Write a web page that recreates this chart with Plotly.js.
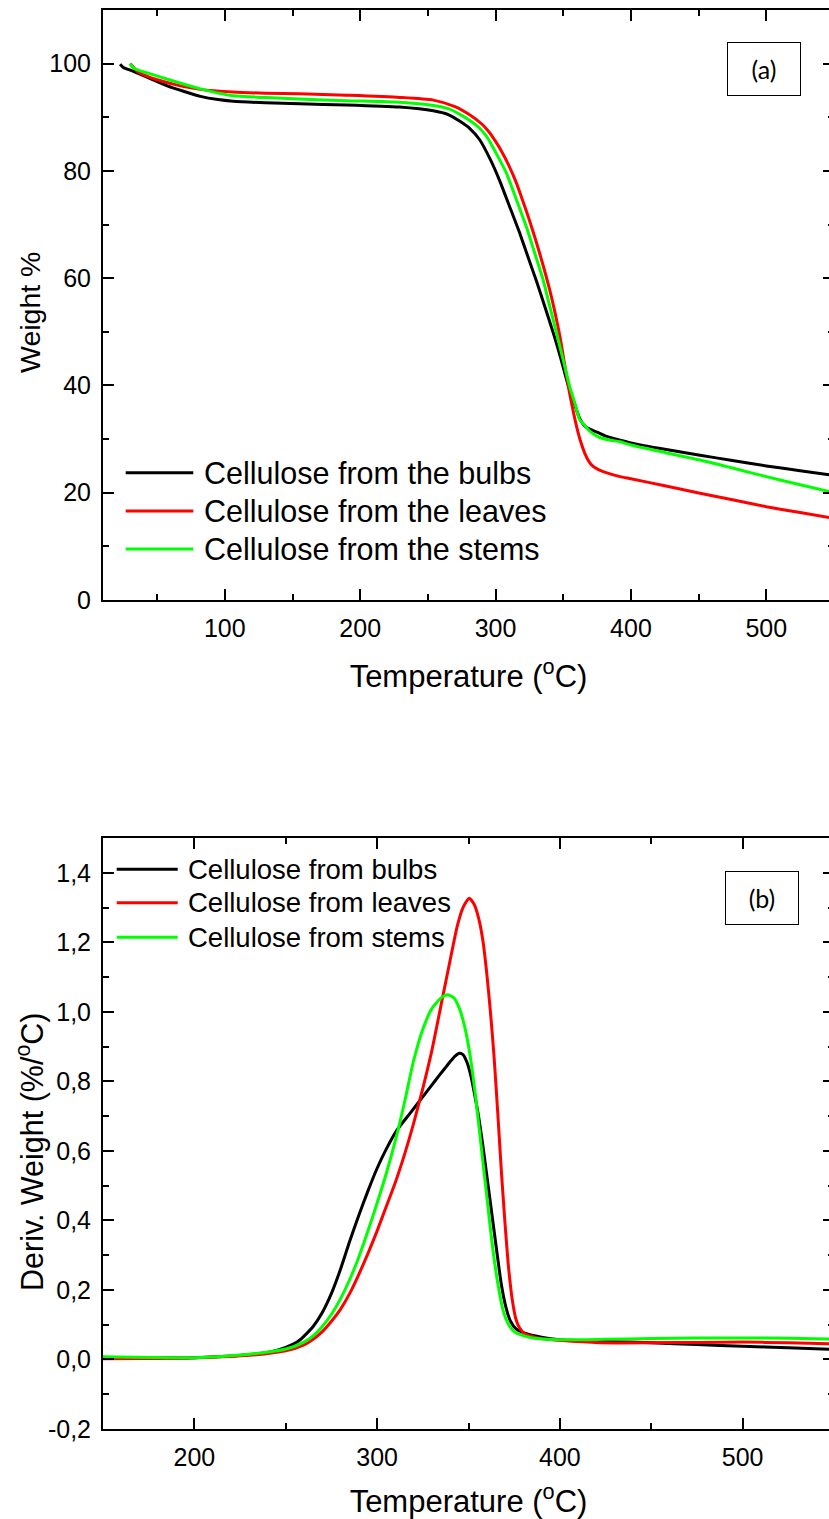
<!DOCTYPE html>
<html>
<head>
<meta charset="utf-8">
<script src="https://cdn.plot.ly/plotly-3.0.1.min.js"></script>
<style>html,body{margin:0;padding:0;overflow:hidden;background:#fff;}</style>
</head>
<body>
<div id="chart"></div>
<script>
// ---------- labels / colours ----------
const seriesNamesA = ["Cellulose from the bulbs", "Cellulose from the leaves", "Cellulose from the stems"];
const seriesNamesB = ["Cellulose from bulbs", "Cellulose from leaves", "Cellulose from stems"];
const seriesColors = ["#000000", "#ff0000", "#00ff00"];
const xTitle = "Temperature (<sup>o</sup>C)";
const yTitleA = "Weight %";
const yTitleB = "Deriv. Weight (%/<sup>o</sup>C)";

// ---------- (a) TGA data ----------
const bulbsT = [22.6, 25, 32, 45, 57, 70, 82, 95, 106, 130, 155, 190, 229, 254, 265, 274, 281, 288, 296, 303, 310, 318, 325, 330, 336, 343, 348, 353, 358, 362, 366, 370, 375, 382, 392, 400, 425, 451, 475, 500, 525, 550];
const bulbsW = [99.9, 99.3, 98.6, 97.2, 95.9, 94.8, 93.9, 93.3, 93.0, 92.7, 92.5, 92.3, 91.9, 91.2, 90.5, 89.2, 87.9, 85.9, 82.2, 78.2, 73.6, 68.3, 63.2, 59.6, 55.0, 49.5, 45.2, 40.6, 36.8, 33.9, 32.4, 31.8, 31.3, 30.5, 29.8, 29.3, 28.1, 27.0, 26.0, 25.0, 24.1, 23.2];

const leavesT = [30, 31.5, 33, 35, 40, 50, 65, 82, 106, 130, 155, 190, 229, 254, 270, 280, 290, 295, 300, 305, 310, 315, 320, 325, 330, 335, 340, 345, 348, 351, 354, 357, 360, 363, 366, 369, 372, 376, 380, 392, 400, 425, 451, 475, 500, 525, 550];
const leavesW = [100, 99.6, 99.2, 98.6, 97.9, 97.0, 96.0, 95.2, 94.7, 94.5, 94.4, 94.1, 93.7, 93.2, 92.0, 90.6, 88.7, 87.3, 85.5, 83.4, 80.9, 78.0, 74.5, 70.8, 66.8, 62.5, 57.8, 52.3, 48.5, 43.9, 39.5, 35.6, 32.2, 29.4, 27.3, 25.8, 24.9, 24.3, 23.9, 23.0, 22.6, 21.3, 19.9, 18.7, 17.4, 16.3, 15.2];

const stemsT = [29.9, 32, 37, 45, 60, 82, 106, 130, 155, 190, 229, 254, 265, 274, 281, 288, 294, 301, 308, 315, 323, 329, 335, 340, 345, 350, 355, 359, 362, 366, 369, 372, 377, 385, 392, 400, 425, 451, 475, 500, 525, 550];
const stemsW = [100, 99.3, 98.7, 98.1, 96.9, 95.3, 94.0, 93.7, 93.4, 93.1, 92.8, 92.2, 91.6, 90.5, 89.4, 88.0, 86.2, 83.0, 79.6, 74.9, 69.4, 64.6, 59.8, 54.8, 49.8, 44.7, 39.6, 36.3, 33.7, 32.5, 31.6, 31.0, 30.3, 29.8, 29.5, 28.9, 27.5, 26.1, 24.6, 23.0, 21.5, 20.0];

// ---------- (b) DTG data ----------
const bulbsDT = [150, 175, 200, 220, 240, 250, 257, 265, 270, 275, 280, 285, 290, 295, 300, 305, 311, 318, 324, 330, 334, 337, 340, 342.5, 345, 347, 349, 351, 353, 355.5, 358, 360.5, 363, 365.5, 368, 370.5, 373, 376, 380, 390, 400, 425, 450, 475, 500, 525, 550];
const bulbsD = [0.005, 0.004, 0.005, 0.01, 0.02, 0.035, 0.053, 0.095, 0.135, 0.19, 0.26, 0.34, 0.415, 0.485, 0.55, 0.605, 0.661, 0.708, 0.749, 0.79, 0.817, 0.837, 0.857, 0.872, 0.881, 0.877, 0.857, 0.822, 0.772, 0.7, 0.61, 0.51, 0.41, 0.31, 0.215, 0.15, 0.11, 0.088, 0.077, 0.064, 0.057, 0.052, 0.048, 0.043, 0.038, 0.034, 0.029];

const leavesDT = [150, 175, 200, 230, 250, 260, 265, 270, 275, 280, 285, 290, 295, 300, 305, 310, 315, 320, 325, 330, 335, 340, 344, 347, 350.4, 353, 355.5, 358, 360, 362, 364, 366, 368, 370, 372, 374, 376, 378, 381, 390, 400, 421.8, 450, 475, 500, 525, 550];
const leavesD = [0.002, 0.003, 0.005, 0.012, 0.025, 0.042, 0.058, 0.08, 0.11, 0.145, 0.19, 0.245, 0.305, 0.37, 0.44, 0.51, 0.59, 0.68, 0.78, 0.89, 1.02, 1.15, 1.25, 1.3, 1.327, 1.31, 1.27, 1.2, 1.11, 1.0, 0.87, 0.71, 0.54, 0.39, 0.26, 0.17, 0.115, 0.09, 0.073, 0.06, 0.055, 0.048, 0.048, 0.049, 0.05, 0.048, 0.045];

const stemsDT = [150, 175, 200, 230, 250, 260, 265, 270, 275, 280, 285, 290, 295, 300, 305, 310, 315, 320, 325, 330, 335, 338.5, 342, 345, 348, 351, 354, 357, 360, 363, 366, 369, 372, 375, 378, 385, 400, 425, 450, 475, 500, 525, 550];
const stemsD = [0.008, 0.006, 0.005, 0.015, 0.03, 0.05, 0.068, 0.095, 0.13, 0.175, 0.23, 0.295, 0.37, 0.45, 0.535, 0.63, 0.74, 0.86, 0.95, 1.01, 1.04, 1.049, 1.04, 1.01, 0.955, 0.87, 0.75, 0.61, 0.47, 0.33, 0.22, 0.14, 0.1, 0.08, 0.072, 0.062, 0.057, 0.058, 0.06, 0.062, 0.062, 0.061, 0.059];

// ---------- tick labels ----------
const dtgTickVals = [-0.2, 0, 0.2, 0.4, 0.6, 0.8, 1.0, 1.2, 1.4];
const dtgTickText = ["-0,2", "0,0", "0,2", "0,4", "0,6", "0,8", "1,0", "1,2", "1,4"];
const tgaTickVals = [0, 20, 40, 60, 80, 100];
const tempTickVals = [100, 200, 300, 400, 500];

// ---------- geometry helpers (pixel -> paper) ----------
const W = 840, H = 1519;
const M = {l: 103, r: 6, t: 10, b: 90};
const PW = W - M.l - M.r, PH = H - M.t - M.b;
const px = p => (p - M.l) / PW;
const py = p => (H - M.b - p) / PH;

const FONT = "Arial, Liberation Sans, sans-serif";
const lw = 3;

const tgaX = [bulbsT, leavesT, stemsT];
const tgaY = [bulbsW, leavesW, stemsW];
const dtgX = [bulbsDT, leavesDT, stemsDT];
const dtgY = [bulbsD, leavesD, stemsD];

const traces = [];
for (let i = 0; i < 3; i++) {
  traces.push({x: tgaX[i], y: tgaY[i], name: seriesNamesA[i], type: 'scatter', mode: 'lines',
    line: {color: seriesColors[i], width: lw, shape: 'spline', smoothing: 0.6}, xaxis: 'x', yaxis: 'y', showlegend: false});
}
for (let i = 0; i < 3; i++) {
  traces.push({x: dtgX[i], y: dtgY[i], name: seriesNamesB[i], type: 'scatter', mode: 'lines',
    line: {color: seriesColors[i], width: lw, shape: 'spline', smoothing: 0.6}, xaxis: 'x2', yaxis: 'y2', showlegend: false});
}

function axisBase() {
  return {
    showline: true, linecolor: '#000', linewidth: 2, mirror: 'ticks',
    ticks: 'inside', ticklen: 11, tickwidth: 2, tickcolor: '#000',
    showgrid: false, zeroline: false,
    tickfont: {family: FONT, size: 25, color: '#000'},
    ticklabelstandoff: 5
  };
}
const minorTicks = d => ({dtick: d, tick0: 0, ticks: 'inside', ticklen: 6, tickwidth: 2, tickcolor: '#000'});

const topY0 = py(600);
const botY1 = py(838);

const layout = {
  width: W, height: H,
  margin: M,
  paper_bgcolor: '#fff', plot_bgcolor: '#fff',
  showlegend: false,
  font: {family: FONT, color: '#000'},
  xaxis: Object.assign(axisBase(), {
    domain: [0, 1], anchor: 'y', range: [10, 550], tickvals: tempTickVals, minor: minorTicks(50),
    title: {text: xTitle, font: {family: FONT, size: 31, color: '#000'}, standoff: 24}
  }),
  yaxis: Object.assign(axisBase(), {
    domain: [topY0, 1], anchor: 'x', range: [0, 110], tickvals: tgaTickVals, minor: minorTicks(10)
  }),
  xaxis2: Object.assign(axisBase(), {
    domain: [0, 1], anchor: 'y2', range: [150, 550], tickvals: tempTickVals, minor: minorTicks(50),
    title: {text: xTitle, font: {family: FONT, size: 31, color: '#000'}, standoff: 22}
  }),
  yaxis2: Object.assign(axisBase(), {
    domain: [0, botY1], anchor: 'x2', range: [-0.2, 1.5], tickvals: dtgTickVals, ticktext: dtgTickText, minor: minorTicks(0.1)
  }),
  shapes: [],
  annotations: []
};

// y-axis titles (placed as in the reference, slightly below axis centre)
layout.annotations.push({xref: 'paper', yref: 'paper', x: px(30), y: py(313), xanchor: 'center', yanchor: 'middle',
  textangle: -90, text: yTitleA, showarrow: false, font: {family: FONT, size: 28.5, color: '#000'}});
layout.annotations.push({xref: 'paper', yref: 'paper', x: px(30), y: py(1152), xanchor: 'center', yanchor: 'middle',
  textangle: -90, text: yTitleB, showarrow: false, font: {family: FONT, size: 30.5, color: '#000'}});

// legends drawn as paper-referenced samples
const legA = {rows: [472.7, 511, 549], x0: 125.7, x1: 193.3, tx: 202.7, size: 30.5, names: seriesNamesA};
const legB = {rows: [869.3, 902.7, 937.3], x0: 116.7, x1: 177.7, tx: 186.7, size: 27.5, names: seriesNamesB};
[legA, legB].forEach(L => {
  L.rows.forEach((r, i) => {
    layout.shapes.push({type: 'line', xref: 'paper', yref: 'paper', x0: px(L.x0), x1: px(L.x1), y0: py(r), y1: py(r),
      line: {color: seriesColors[i], width: lw}});
    layout.annotations.push({xref: 'paper', yref: 'paper', x: px(L.tx), y: py(r), xanchor: 'left', yanchor: 'middle',
      text: L.names[i], showarrow: false, borderpad: 0, font: {family: FONT, size: L.size, color: '#000'}});
  });
});

// panel labels
[{t: '(a)', cx: 764, cy: 69}, {t: '(b)', cx: 762, cy: 898}].forEach(b => {
  layout.annotations.push({xref: 'paper', yref: 'paper', x: px(b.cx), y: py(b.cy), xanchor: 'center', yanchor: 'middle',
    text: b.t, showarrow: false, width: 72, height: 52, borderpad: 0, bordercolor: '#000', borderwidth: 1,
    bgcolor: '#fff', align: 'center', valign: 'middle', font: {family: "Lato, Open Sans, sans-serif", size: 25, color: '#000'}});
});

Plotly.newPlot('chart', traces, layout, {displayModeBar: false, staticPlot: true});
</script>
</body>
</html>
